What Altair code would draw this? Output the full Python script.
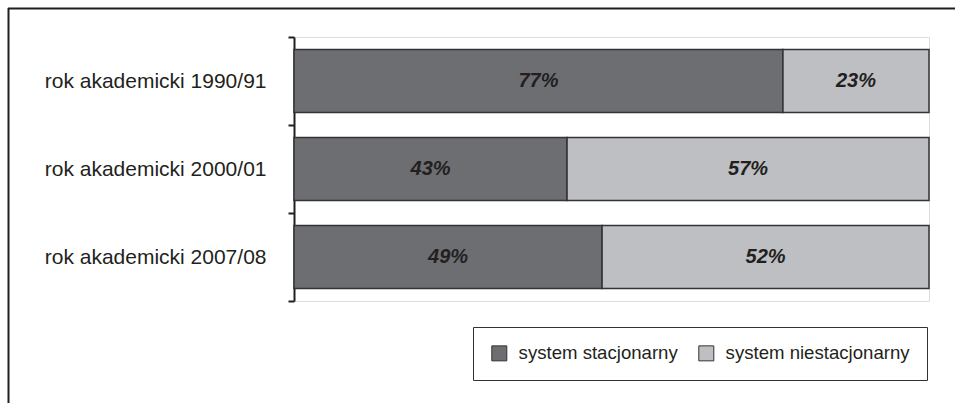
import altair as alt
import pandas as pd

# Academic years and share of students per study mode (%)
years = ["rok akademicki 1990/91", "rok akademicki 2000/01", "rok akademicki 2007/08"]
stacjonarny = [77, 43, 49]
niestacjonarny = [23, 57, 52]
modes = ["system stacjonarny", "system niestacjonarny"]
colors = ["#6d6e72", "#bebfc3"]

rows = []
for y, a, b in zip(years, stacjonarny, niestacjonarny):
    rows.append({"year": y, "mode": modes[0], "value": a, "ord": 0})
    rows.append({"year": y, "mode": modes[1], "value": b, "ord": 1})
df = pd.DataFrame(rows)

W, H = 635, 264
PAD = {"left": 294, "top": 37, "right": 26, "bottom": 102}

base = alt.Chart(df).transform_stack(
    stack="value",
    groupby=["year"],
    as_=["v0", "v1"],
    offset="normalize",
    sort=[alt.SortField("ord", order="ascending")],
).transform_calculate(
    mid="(datum.v0 + datum.v1) / 2",
    label="datum.value + '%'",
)

y_enc = alt.Y(
    "year:N",
    sort=years,
    title=None,
    scale=alt.Scale(paddingInner=0, paddingOuter=0),
    axis=alt.Axis(
        tickBand="extent",
        domainColor="#231f20",
        domainWidth=2,
        tickColor="#231f20",
        tickWidth=2,
        tickSize=6,
        labelPadding=22,
        labelFont="Liberation Sans",
        labelFontSize=21,
        labelColor="#231f20",
        labelLimit=400,
    ),
)

bars = base.mark_bar(
    height={"band": 0.716}, stroke="#333333", strokeWidth=1.5
).encode(
    x=alt.X("v0:Q", scale=alt.Scale(domain=[0, 1]), axis=None),
    x2="v1:Q",
    y=y_enc,
    color=alt.Color(
        "mode:N",
        scale=alt.Scale(domain=modes, range=colors),
        legend=alt.Legend(
            title=None,
            orient="none",
            legendX=179,
            legendY=290,
            direction="horizontal",
            symbolType="square",
            symbolSize=225,
            symbolStrokeColor="#333333",
            symbolStrokeWidth=1,
            symbolOpacity=1,
            labelFont="Liberation Sans",
            labelFontSize=18.6,
            labelColor="#231f20",
            labelOffset=10,
            columnPadding=18,
            padding=17,
            strokeColor="#333333",
            fillColor="white",
            labelLimit=400,
        ),
    ),
)

labels = base.mark_text(
    font="Liberation Sans",
    fontSize=20,
    fontWeight="bold",
    fontStyle="italic",
    color="#231f20",
).encode(
    x=alt.X("mid:Q", scale=alt.Scale(domain=[0, 1])),
    y=alt.Y("year:N", sort=years),
    text="label:N",
)

# Outer frame lines (top and left edges of the figure border)
frame_top = alt.Chart(pd.DataFrame({"k": [0]})).mark_rule(
    color="#231f20", strokeWidth=2
).encode(x=alt.value(-286), x2=alt.value(W + 40), y=alt.value(-28.5))
frame_left = alt.Chart(pd.DataFrame({"k": [0]})).mark_rule(
    color="#231f20", strokeWidth=2
).encode(x=alt.value(-285.5), y=alt.value(-29), y2=alt.value(H + 120))

chart = alt.layer(bars, labels, frame_top, frame_left).properties(
    width=W,
    height=H,
    autosize=alt.AutoSizeParams(type="none"),
    padding=PAD,
).configure_view(stroke=None).configure(background="white")

chart.save("out.html", embed_options={"renderer": "svg", "actions": False})
